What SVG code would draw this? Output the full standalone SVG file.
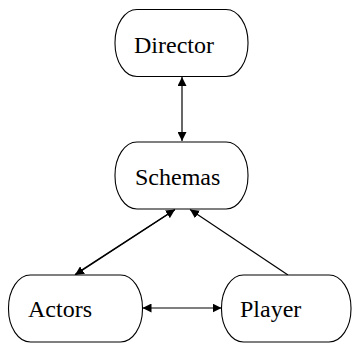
<svg xmlns="http://www.w3.org/2000/svg" width="352" height="345" viewBox="0 0 352 345">
  <style>
    .node rect { fill: #fff; stroke: #000; stroke-width: 1.1; }
    .label { font-family: "Liberation Serif", "Times New Roman", serif; font-size: 24px; fill: #000; }
    .edge { stroke: #000; stroke-width: 1.2; fill: none; }
  </style>
  <defs>
    <marker id="arrow" viewBox="0 0 10 10" refX="10" refY="5" markerWidth="9" markerHeight="9" markerUnits="userSpaceOnUse" orient="auto-start-reverse">
      <path d="M0,0 L10,5 L0,10 z" fill="#000"/>
    </marker>
  </defs>

  <g id="connectors">
    <!-- Director <-> Schemas -->
    <line class="edge" x1="182" y1="77" x2="182" y2="141" marker-start="url(#arrow)" marker-end="url(#arrow)"/>
    <!-- Actors -> Schemas and Schemas -> Actors -->
    <line class="edge" x1="75.5" y1="274" x2="175" y2="209.5" marker-end="url(#arrow)"/>
    <line class="edge" x1="174.5" y1="210" x2="75" y2="275" marker-end="url(#arrow)"/>
    <!-- Player -> Schemas -->
    <line class="edge" x1="288" y1="275" x2="190" y2="209.5" marker-end="url(#arrow)"/>
    <!-- Actors <-> Player -->
    <line class="edge" x1="142.5" y1="308" x2="221.5" y2="308" marker-start="url(#arrow)" marker-end="url(#arrow)"/>
  </g>

  <g id="director" class="node">
    <rect x="115" y="9.5" width="133" height="67" rx="22" ry="33"/>
    <text class="label" x="134" y="53">Director</text>
  </g>
  <g id="schemas" class="node">
    <rect x="115" y="142" width="133" height="67" rx="22" ry="33"/>
    <text class="label" x="135" y="185">Schemas</text>
  </g>
  <g id="actors" class="node">
    <rect x="8.5" y="275" width="134" height="67" rx="22" ry="33"/>
    <text class="label" x="28" y="317">Actors</text>
  </g>
  <g id="player" class="node">
    <rect x="221.5" y="275" width="129.5" height="67" rx="22" ry="33"/>
    <text class="label" x="240" y="317">Player</text>
  </g>
</svg>
